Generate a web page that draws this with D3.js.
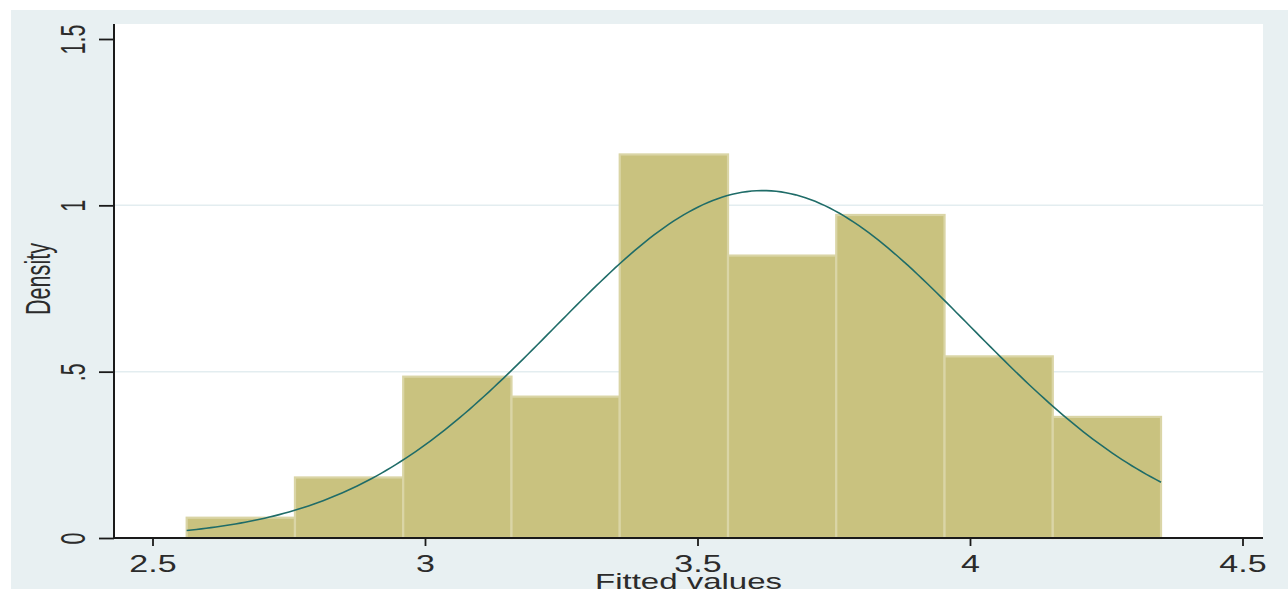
<!DOCTYPE html>
<html>
<head>
<meta charset="utf-8">
<script src="https://cdn.jsdelivr.net/npm/d3@7"></script>
<style>
  html, body { margin: 0; padding: 0; background: #ffffff; }
  svg { display: block; }
  text { font-family: "Liberation Sans", Arial, sans-serif; fill: #2b2b2b; }
</style>
</head>
<body>
<svg id="chart" width="1288" height="589"></svg>
<script>
// Histogram of fitted values (density scale) with a normal density overlay
const binEdges = [2.5627, 2.7614, 2.9600, 3.1587, 3.3573, 3.5560, 3.7546, 3.9533, 4.1519, 4.3505];
const densities = [0.061, 0.182, 0.485, 0.425, 1.153, 0.849, 0.971, 0.546, 0.364];
const normalMean = 3.62;
const normalSd = 0.382;
const xTicks = [2.5, 3, 3.5, 4, 4.5];
const xTickLabels = ["2.5", "3", "3.5", "4", "4.5"];
const yTicks = [0, 0.5, 1, 1.5];
const yTickLabels = ["0", ".5", "1", "1.5"];
const yGrid = [0.5, 1];
const xTitle = "Fitted values";
const yTitle = "Density";

const svg = d3.select("#chart");
const W = 1288, H = 589;

// graph region and plot region
const outer = { left: 11, top: 10 };
const plot = { left: 114, right: 1263, top: 24, bottom: 538 };

svg.append("rect").attr("x", outer.left).attr("y", outer.top)
  .attr("width", W - outer.left).attr("height", H - outer.top)
  .attr("fill", "#e8f0f2");
svg.append("rect").attr("x", plot.left).attr("y", plot.top)
  .attr("width", plot.right - plot.left).attr("height", plot.bottom - plot.top)
  .attr("fill", "#ffffff");

const x = d3.scaleLinear().domain([2.5, 4.5]).range([152.5, 1242.5]);
const y = d3.scaleLinear().domain([0, 1.5]).range([plot.bottom, 39]);

// horizontal grid lines
svg.append("g").selectAll("line").data(yGrid).join("line")
  .attr("x1", plot.left).attr("x2", plot.right)
  .attr("y1", d => y(d)).attr("y2", d => y(d))
  .attr("stroke", "#e3edf0").attr("stroke-width", 1.5);

// bars
const bins = densities.map((d, i) => ({ x0: binEdges[i], x1: binEdges[i + 1], v: d }));
svg.append("g").selectAll("rect").data(bins).join("rect")
  .attr("x", d => x(d.x0))
  .attr("y", d => y(d.v))
  .attr("width", d => x(d.x1) - x(d.x0))
  .attr("height", d => y(0) - y(d.v))
  .attr("fill", "#c9c27f")
  .attr("stroke", "#dad5a6")
  .attr("stroke-width", 2.2);

// normal density curve over the data range
const lo = binEdges[0], hi = binEdges[binEdges.length - 1];
const normalPdf = v => Math.exp(-0.5 * Math.pow((v - normalMean) / normalSd, 2)) / (normalSd * Math.sqrt(2 * Math.PI));
const curveXs = d3.range(0, 201).map(i => lo + (hi - lo) * i / 200);
svg.append("path")
  .datum(curveXs)
  .attr("d", d3.line().x(v => x(v)).y(v => y(normalPdf(v))))
  .attr("fill", "none")
  .attr("stroke", "#1f6c68")
  .attr("stroke-width", 1.6);

// x axis
const xAxis = d3.axisBottom(x).tickValues(xTicks)
  .tickFormat((d, i) => xTickLabels[i]).tickSize(8).tickSizeOuter(0);
const gx = svg.append("g").attr("transform", `translate(0,${plot.bottom})`).call(xAxis);
gx.select(".domain").remove();
gx.selectAll(".tick line").attr("stroke", "#1a1a1a").attr("stroke-width", 1.8);
gx.selectAll(".tick text")
  .attr("y", null).attr("dy", null)
  .attr("transform", "translate(0,33.5) scale(1.48,1)")
  .attr("text-anchor", "middle")
  .style("font-size", "23px").attr("fill", "#2b2b2b");

// y axis
const yAxis = d3.axisLeft(y).tickValues(yTicks)
  .tickFormat((d, i) => yTickLabels[i]).tickSize(15).tickSizeOuter(0);
const gy = svg.append("g").attr("transform", `translate(${plot.left},0)`).call(yAxis);
gy.select(".domain").remove();
gy.selectAll(".tick line").attr("stroke", "#1a1a1a").attr("stroke-width", 1.8);
gy.selectAll(".tick text")
  .attr("x", null).attr("dy", null)
  .attr("transform", "translate(-29,0) scale(1.62,1) rotate(-90)")
  .attr("text-anchor", "middle")
  .style("font-size", "21.5px").attr("fill", "#2b2b2b");

// axis lines
svg.append("line").attr("x1", plot.left).attr("x2", plot.right)
  .attr("y1", plot.bottom).attr("y2", plot.bottom)
  .attr("stroke", "#1a1a1a").attr("stroke-width", 2);
svg.append("line").attr("x1", plot.left).attr("x2", plot.left)
  .attr("y1", plot.top).attr("y2", plot.bottom + 1)
  .attr("stroke", "#1a1a1a").attr("stroke-width", 2);

// axis titles
svg.append("text")
  .attr("transform", `translate(${(plot.left + plot.right) / 2},588.5) scale(1.5,1)`)
  .attr("text-anchor", "middle")
  .style("font-size", "22px")
  .text(xTitle);
svg.append("text")
  .attr("transform", `translate(50,${(plot.top + plot.bottom) / 2 - 2}) scale(1.6,1) rotate(-90)`)
  .attr("text-anchor", "middle")
  .style("font-size", "21.6px")
  .text(yTitle);
</script>
</body>
</html>
